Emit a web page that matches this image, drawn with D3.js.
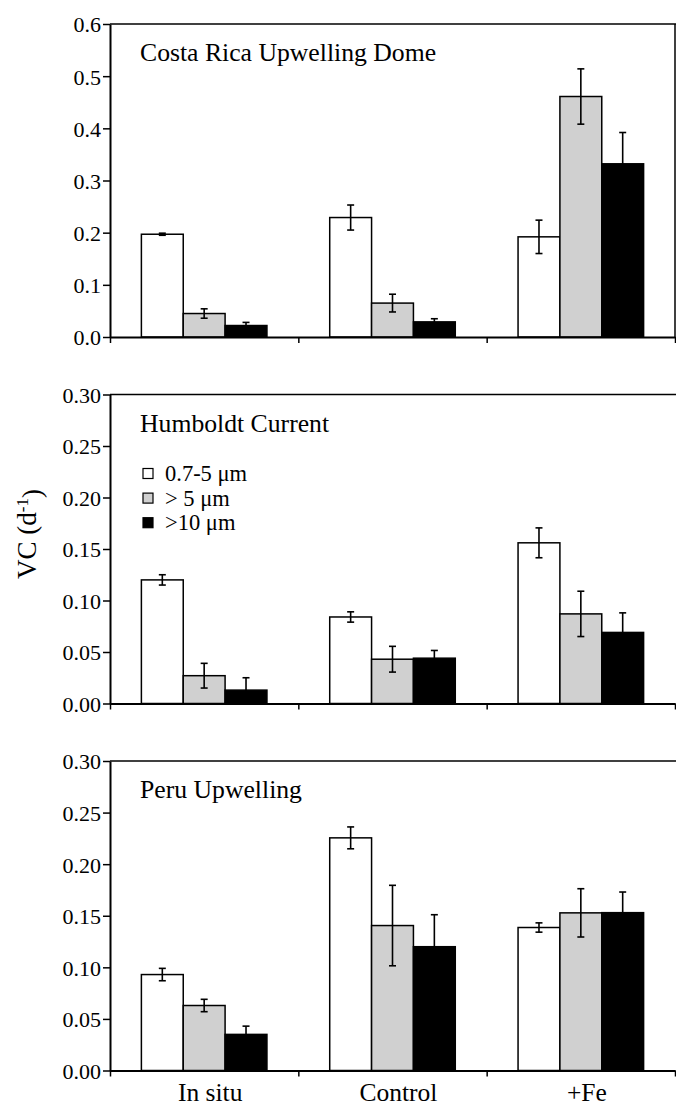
<!DOCTYPE html>
<html>
<head>
<meta charset="utf-8">
<script src="https://cdn.jsdelivr.net/npm/d3@7"></script>
<style>
  html, body { margin: 0; padding: 0; background: #fff; }
  svg { display: block; }
  text { font-family: "Liberation Serif", "DejaVu Serif", serif; fill: #000; }
</style>
</head>
<body>
<svg id="chart" width="676" height="1112"></svg>
<script>
// ---------- DATA ----------
const categories = ["In situ", "Control", "+Fe"];
const seriesNames = ["0.7-5 \u03bcm", "> 5 \u03bcm", ">10 \u03bcm"];
const panelTitles = ["Costa Rica Upwelling Dome", "Humboldt Current", "Peru Upwelling"];
const yLabel = "VC (d";
const yLabelSup = "-1";

// values[category][series]
const costaRicaValues = [[0.197, 0.045, 0.022], [0.229, 0.065, 0.029], [0.192, 0.461, 0.332]];
const costaRicaErrors = [[0.002, 0.009, 0.006], [0.024, 0.017, 0.006], [0.032, 0.053, 0.060]];
const humboldtValues  = [[0.120, 0.027, 0.013], [0.084, 0.043, 0.044], [0.156, 0.087, 0.069]];
const humboldtErrors  = [[0.005, 0.012, 0.012], [0.005, 0.0125, 0.0075], [0.0145, 0.022, 0.019]];
const peruValues      = [[0.093, 0.063, 0.035], [0.2255, 0.1405, 0.120], [0.1386, 0.1528, 0.153]];
const peruErrors      = [[0.006, 0.006, 0.008], [0.0106, 0.039, 0.031], [0.0045, 0.0234, 0.020]];

const costaRicaTicks = [0, 0.1, 0.2, 0.3, 0.4, 0.5, 0.6];
const humboldtTicks  = [0, 0.05, 0.10, 0.15, 0.20, 0.25, 0.30];
const peruTicks      = [0, 0.05, 0.10, 0.15, 0.20, 0.25, 0.30];

// ---------- LAYOUT ----------
const svg = d3.select("#chart");
const xLeft = 110, xRight = 675;
const fills = ["#ffffff", "#d0d0d0", "#000000"];

const panels = [
  { title: panelTitles[0], values: costaRicaValues, errors: costaRicaErrors, ticks: costaRicaTicks, fmt: ".1f", top: 24, bottom: 337, rightBorder: true, labels: false },
  { title: panelTitles[1], values: humboldtValues, errors: humboldtErrors, ticks: humboldtTicks, fmt: ".2f", top: 394.5, bottom: 703.5, rightBorder: false, labels: false, legend: true },
  { title: panelTitles[2], values: peruValues, errors: peruErrors, ticks: peruTicks, fmt: ".2f", top: 761, bottom: 1070.5, rightBorder: false, labels: true }
];

const x0 = d3.scaleBand().domain(categories).range([xLeft, xRight]).padding(0);
const bw = x0.bandwidth();
const x1 = d3.scaleBand().domain(seriesNames).range([bw / 6, bw * 5 / 6]).padding(0);
const xBound = d3.scaleLinear().domain([0, categories.length]).range([xLeft, xRight]);

panels.forEach(p => {
  const yMax = p.ticks[p.ticks.length - 1];
  const y = d3.scaleLinear().domain([0, yMax]).range([p.bottom, p.top]);
  const g = svg.append("g");

  // bars
  categories.forEach((cat, ci) => {
    seriesNames.forEach((s, si) => {
      const v = p.values[ci][si];
      g.append("rect")
        .attr("x", x0(cat) + x1(s))
        .attr("y", y(v))
        .attr("width", x1.bandwidth())
        .attr("height", y(0) - y(v))
        .attr("fill", fills[si])
        .attr("stroke", "#000")
        .attr("stroke-width", 1.5);
    });
  });

  // error bars
  categories.forEach((cat, ci) => {
    seriesNames.forEach((s, si) => {
      const v = p.values[ci][si], e = p.errors[ci][si];
      const cx = x0(cat) + x1(s) + x1.bandwidth() / 2;
      const eg = g.append("g").attr("stroke", "#000").attr("stroke-width", 1.6);
      eg.append("line").attr("x1", cx).attr("x2", cx).attr("y1", y(v + e)).attr("y2", y(v - e));
      eg.append("line").attr("x1", cx - 3.5).attr("x2", cx + 3.5).attr("y1", y(v + e)).attr("y2", y(v + e));
      eg.append("line").attr("x1", cx - 3.5).attr("x2", cx + 3.5).attr("y1", y(v - e)).attr("y2", y(v - e));
    });
  });

  // frame
  g.append("line").attr("x1", xLeft).attr("x2", 676).attr("y1", p.top).attr("y2", p.top)
    .attr("stroke", "#000").attr("stroke-width", 1.5);
  if (p.rightBorder) {
    g.append("line").attr("x1", xRight).attr("x2", xRight).attr("y1", p.top).attr("y2", p.bottom)
      .attr("stroke", "#000").attr("stroke-width", 1.5);
  }

  // y axis
  const yAxis = d3.axisLeft(y).tickValues(p.ticks).tickFormat(d3.format(p.fmt))
    .tickSize(7).tickSizeOuter(0).tickPadding(2);
  const ya = g.append("g").attr("transform", `translate(${xLeft},0)`).call(yAxis)
    .attr("font-family", null).attr("font-size", null);
  ya.select(".domain").attr("stroke-width", 2);
  ya.selectAll(".tick line").attr("stroke-width", 1.5);
  ya.selectAll(".tick text").style("font-size", "22px").attr("dy", "0.36em");

  // x axis (boundary ticks)
  const xAxis = d3.axisBottom(xBound).tickValues(d3.range(0, categories.length + 1))
    .tickFormat("").tickSize(6).tickSizeOuter(0);
  const xa = g.append("g").attr("transform", `translate(0,${p.bottom})`).call(xAxis);
  xa.select(".domain").attr("stroke-width", 2);
  xa.selectAll(".tick line").attr("stroke-width", 1.5);

  // title
  g.append("text").attr("x", xLeft + 30).attr("y", p.top + 37)
    .style("font-size", "25.7px").text(p.title);

  if (p.labels) {
    g.selectAll(".catlabel").data(categories).enter().append("text")
      .attr("x", d => x0(d) + bw / 2 + 6)
      .attr("y", p.bottom + 30)
      .attr("text-anchor", "middle")
      .style("font-size", "25.5px")
      .text(d => d);
  }

  if (p.legend) {
    const lg = g.append("g");
    seriesNames.forEach((s, si) => {
      const cy = p.top + 79 + si * 24.6;
      lg.append("rect").attr("x", 143).attr("y", cy - 5).attr("width", 10).attr("height", 10)
        .attr("fill", fills[si]).attr("stroke", "#000").attr("stroke-width", 1.2);
      lg.append("text").attr("x", 165).attr("y", cy + 7.5)
        .style("font-size", "22.5px").text(s);
    });
  }
});

// y-axis label
const yl = svg.append("text")
  .attr("transform", "translate(36,534) rotate(-90)")
  .attr("text-anchor", "middle")
  .style("font-size", "27px");
yl.append("tspan").text(yLabel);
yl.append("tspan").attr("dy", "-0.45em").style("font-size", "17px").text(yLabelSup);
yl.append("tspan").attr("dy", "0.45em").text(")");
</script>
</body>
</html>
